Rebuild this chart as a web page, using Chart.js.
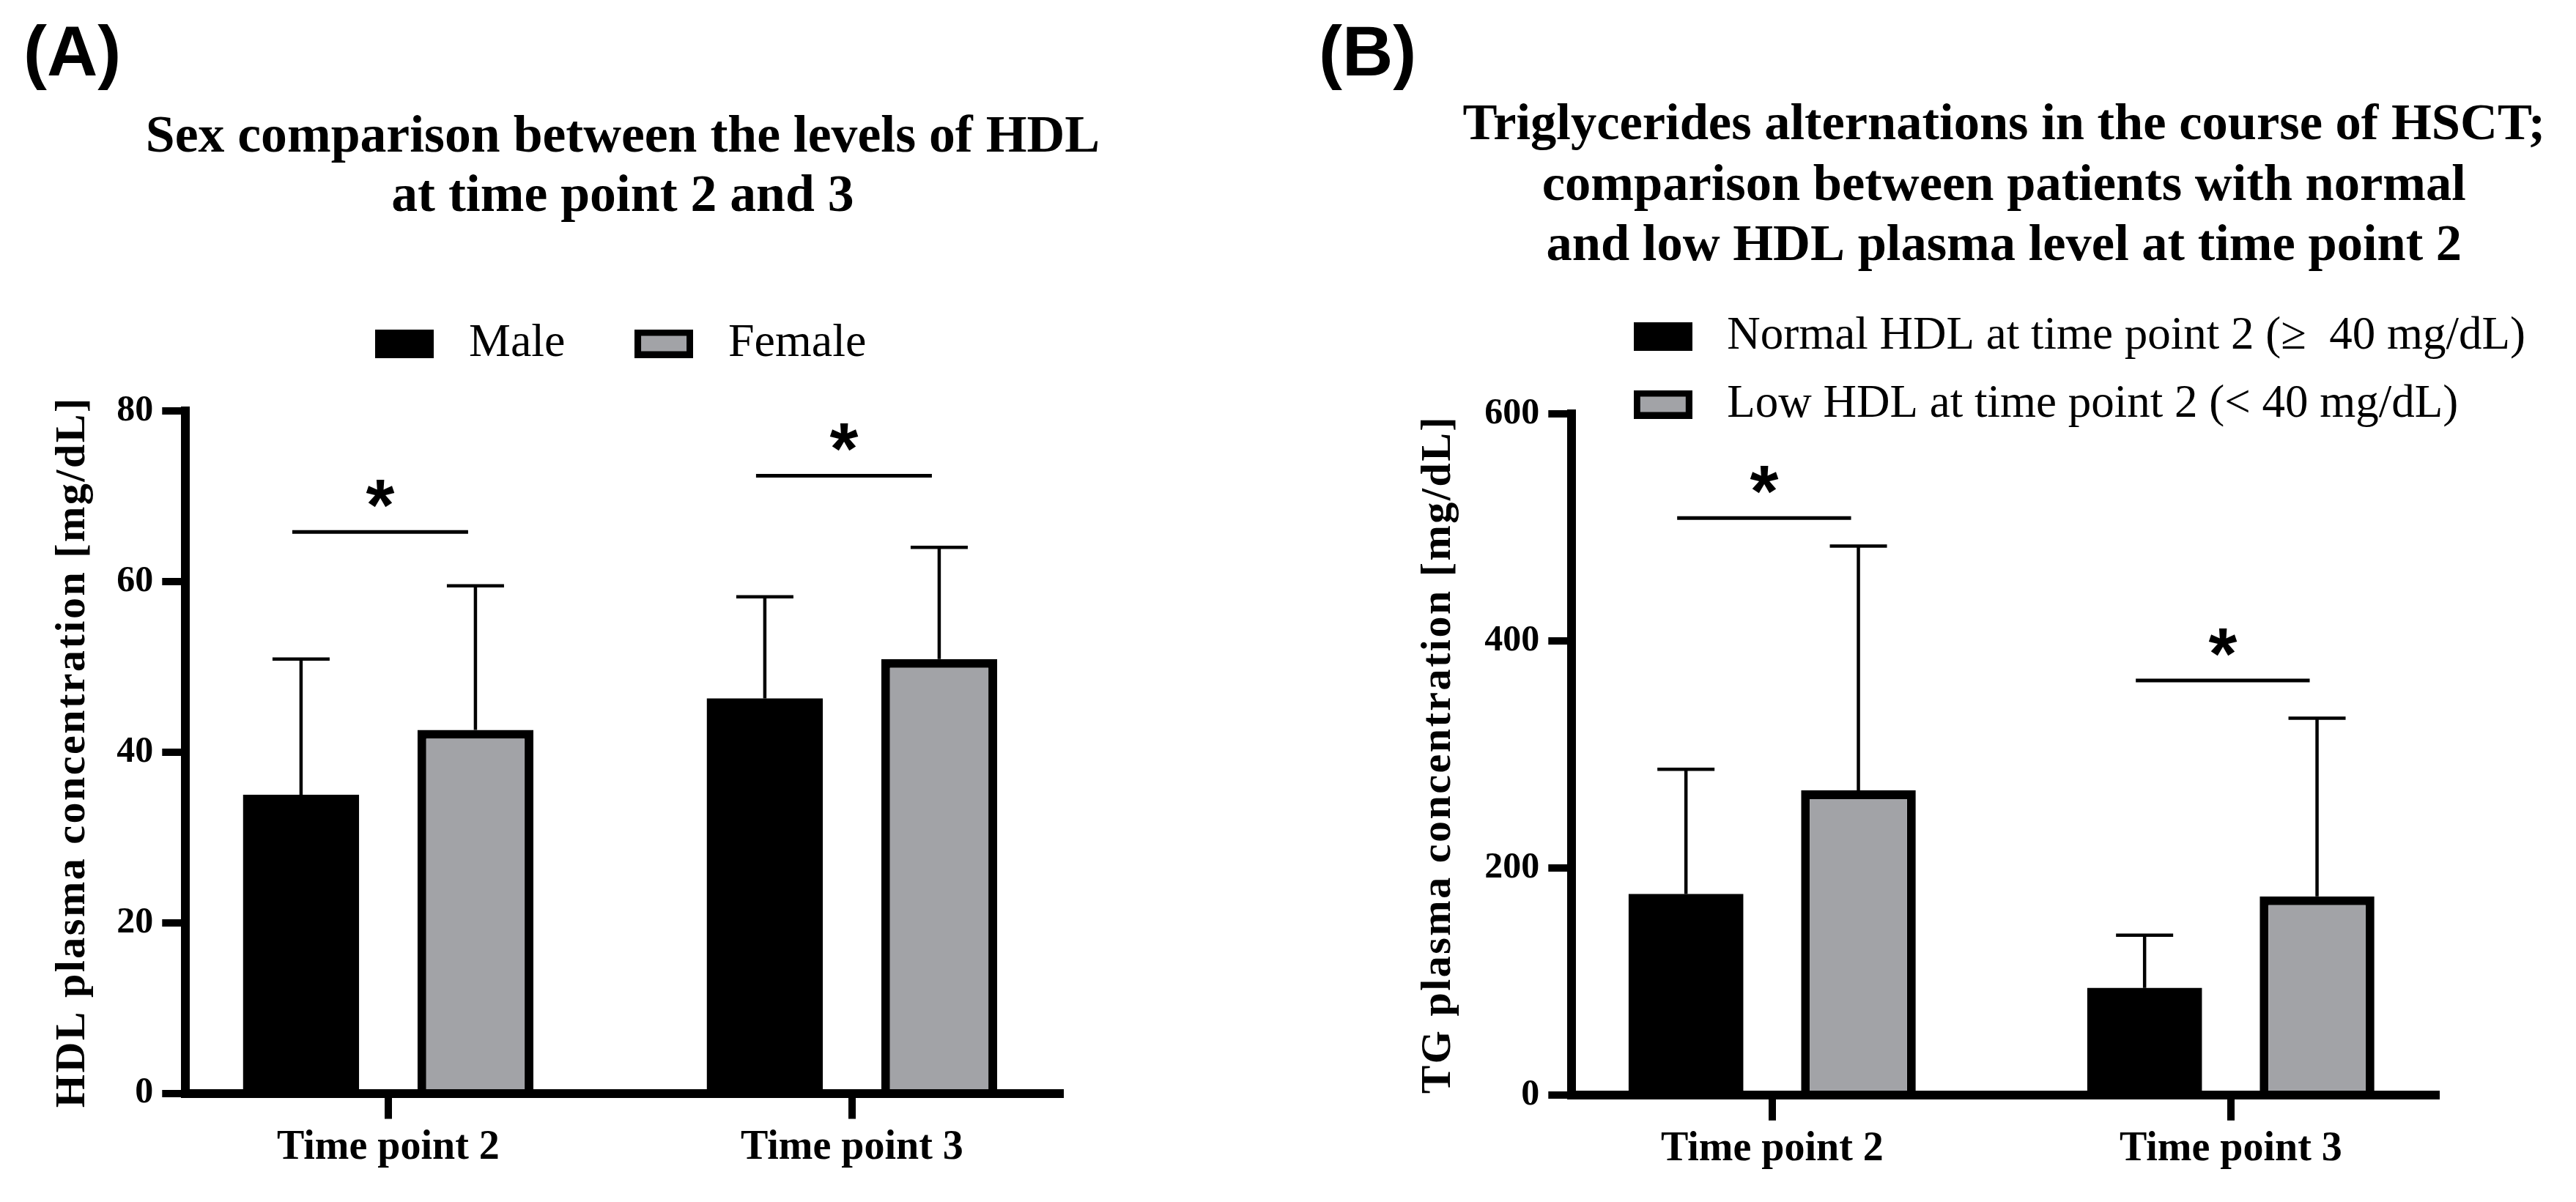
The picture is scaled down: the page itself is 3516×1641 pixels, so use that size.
<!DOCTYPE html>
<html>
<head>
<meta charset="utf-8">
<title>HDL and TG after HSCT</title>
<script src="https://cdn.jsdelivr.net/npm/chart.js@4.4.1/dist/chart.umd.min.js"></script>
<style>
  html, body { margin: 0; padding: 0; background: #fff; overflow: hidden; }
  body { width: 3516px; height: 1641px; position: relative; }
  canvas { position: absolute; top: 0; }
  .tag { position: absolute; top: 22px; font: bold 96px 'Liberation Sans', Arial, sans-serif; line-height: 1; color: #000; }
</style>
</head>
<body>
<canvas id="chartA" style="left:0" width="1760" height="1641"></canvas>
<canvas id="chartB" style="left:1760px" width="1756" height="1641"></canvas>
<div class="tag" style="left:32px">(A)</div>
<div class="tag" style="left:1800px">(B)</div>
<script>
/* ---- data ---- */
const timePoints = ['Time point 2', 'Time point 3'];

// (A) HDL by sex, mg/dL (mean, SD)
const hdlMale = [35.0, 46.3];
const hdlMaleSD = [15.9, 11.9];
const hdlFemale = [42.6, 50.9];
const hdlFemaleSD = [16.9, 13.1];
const hdlSig = [65.8, 72.4];
const hdlTicks = [0, 20, 40, 60, 80];

// (B) TG by HDL group at time point 2, mg/dL (mean, SD)
const tgNormal = [177.0, 94.3];
const tgNormalSD = [110.0, 46.5];
const tgLow = [268.5, 175.0];
const tgLowSD = [215.3, 157.0];
const tgSig = [508.5, 365.3];
const tgTicks = [0, 200, 400, 600];

const SERIF = "'Liberation Serif', 'Times New Roman', serif";
const GRAY = '#a2a3a7';

/* error bars, significance bars and asterisks */
const marks = {
  id: 'marks',
  afterDatasetsDraw(chart, args, opts) {
    const ctx = chart.ctx;
    const y = chart.scales.y;
    ctx.save();
    ctx.strokeStyle = '#000';
    ctx.fillStyle = '#000';
    ctx.lineCap = 'butt';
    opts.sd.forEach((sd, di) => {
      const ds = chart.data.datasets[di];
      chart.getDatasetMeta(di).data.forEach((bar, i) => {
        const yEnd = y.getPixelForValue(ds.data[i].y + sd[i]);
        ctx.lineWidth = 4.5;
        ctx.beginPath();
        ctx.moveTo(bar.x, bar.y);
        ctx.lineTo(bar.x, yEnd);
        ctx.moveTo(bar.x - 39, yEnd);
        ctx.lineTo(bar.x + 39, yEnd);
        ctx.stroke();
      });
    });
    const left = chart.getDatasetMeta(0).data;
    const right = chart.getDatasetMeta(1).data;
    opts.sig.forEach((v, i) => {
      const yy = y.getPixelForValue(v);
      const x0 = left[i].x - 12, x1 = right[i].x - 10;
      ctx.lineWidth = 5;
      ctx.beginPath();
      ctx.moveTo(x0, yy);
      ctx.lineTo(x1, yy);
      ctx.stroke();
      ctx.font = "bold 100px 'Liberation Sans', Arial, sans-serif";
      ctx.textAlign = 'center';
      ctx.textBaseline = 'alphabetic';
      ctx.fillText('*', (x0 + x1) / 2, yy - 2);
    });
    ctx.restore();
  }
};

/* place legend and title where the figure has them:
   the legend overlaps the plot top in B, the titles run wider than the plot */
const placeBoxes = {
  id: 'placeBoxes',
  afterLayout(chart, args, opts) {
    const lg = chart.legend;
    if (lg) {
      const lab = lg.options.labels;
      const h = lg.bottom - lg.top;
      lg.top = opts.legendMiddle - lab.padding - lab.font.size / 2;
      lg.bottom = lg.top + h;
      lg.left += opts.dx;
      lg.right = opts.right != null ? opts.right : lg.right + opts.dx;
    }
    const t = chart.titleBlock;
    if (t) {
      t.left -= 400;
      t.right += 400;
    }
  }
};

/* the y title in the figure is letter-spaced */
const spacedTitle = {
  id: 'spacedTitle',
  beforeDraw(chart, args, opts) {
    const s = chart.scales.y;
    if (s._spaced) return;
    const draw = s.drawTitle;
    s.drawTitle = function () {
      chart.ctx.save();
      chart.ctx.letterSpacing = opts.spacing + 'px';
      draw.call(s);
      chart.ctx.restore();
    };
    s._spaced = true;
  }
};

/* legend swatch: 80x39 box with a black frame */
function swatch(fill) {
  const c = document.createElement('canvas');
  c.width = 80;
  c.height = 39;
  const g = c.getContext('2d');
  g.fillStyle = '#000';
  g.fillRect(0, 0, 80, 39);
  g.fillStyle = fill;
  g.fillRect(9, 9, 62, 21);
  return c;
}

const legendLabels = chart => Chart.defaults.plugins.legend.labels.generateLabels(chart)
  .map((item, i) => ({ ...item, pointStyle: swatch(chart.data.datasets[i].backgroundColor) }));

function makeChart(id, cfg) {
  return new Chart(document.getElementById(id), {
    type: 'bar',
    data: {
      datasets: [
        { label: cfg.names[0], data: cfg.a.map((v, i) => ({ x: i, y: v })), backgroundColor: '#000', borderColor: '#000', borderWidth: 0, categoryPercentage: 0.752, barPercentage: 0.665 },
        { label: cfg.names[1], data: cfg.b.map((v, i) => ({ x: i, y: v })), backgroundColor: GRAY, borderColor: '#000', borderWidth: 12, categoryPercentage: 0.752, barPercentage: 0.665 }
      ]
    },
    options: {
      responsive: false,
      animation: false,
      devicePixelRatio: 1,
      layout: { padding: { left: 0, top: 0, bottom: 0, right: cfg.padRight } },
      plugins: {
        tooltip: { enabled: false },
        title: {
          display: true, fullSize: false, text: cfg.title, color: '#000',
          font: { family: SERIF, size: cfg.titleSize, weight: 'bold', lineHeight: cfg.titleLH },
          padding: { top: cfg.titleTop, bottom: cfg.titleBottom }
        },
        legend: {
          display: true, position: 'top', align: cfg.legendAlign, fullSize: false,
          labels: {
            usePointStyle: true, pointStyleWidth: 112, padding: cfg.legendPad, color: '#000',
            font: { family: SERIF, size: cfg.legendSize }, generateLabels: legendLabels
          }
        },
        placeBoxes: cfg.place,
        marks: { sd: [cfg.aSD, cfg.bSD], sig: cfg.sig },
        spacedTitle: { spacing: 2.5 }
      },
      scales: {
        x: {
          type: 'linear', min: -0.437, max: 1.448, offset: false,
          afterBuildTicks: s => { s.ticks = timePoints.map((t, i) => ({ value: i })); },
          afterFit: s => { s.height = cfg.xHeight; },
          grid: { drawOnChartArea: false, offset: false, color: '#000', lineWidth: 10, tickLength: 35 },
          border: { color: '#000', width: 12, z: 1 },
          ticks: { callback: v => timePoints[v], color: '#000', padding: 6, maxRotation: 0, font: { family: SERIF, size: 56, weight: 'bold' } }
        },
        y: {
          min: cfg.ticks[0], max: cfg.ticks[cfg.ticks.length - 1],
          afterBuildTicks: s => { s.ticks = cfg.ticks.map(v => ({ value: v })); },
          afterFit: s => { s.width = cfg.yWidth; },
          grid: { drawOnChartArea: false, color: '#000', lineWidth: 10, tickLength: 32 },
          border: { color: '#000', width: 12, z: 1 },
          ticks: { color: '#000', padding: 12, font: { family: SERIF, size: 50, weight: 'bold' } },
          title: {
            display: true, text: cfg.yTitle, color: '#000',
            font: { family: SERIF, size: 58, weight: 'bold', lineHeight: 1.2 },
            padding: { top: cfg.yTitlePad, bottom: 0 }
          }
        }
      }
    },
    plugins: [marks, placeBoxes, spacedTitle]
  });
}

makeChart('chartA', {
  names: ['Male', 'Female'],
  a: hdlMale, aSD: hdlMaleSD, b: hdlFemale, bSD: hdlFemaleSD, sig: hdlSig, ticks: hdlTicks,
  title: ['Sex comparison between the levels of HDL', 'at time point 2 and 3'],
  titleSize: 71.7, titleLH: 1.1367, titleTop: 147.5, titleBottom: 98,
  legendAlign: 'center', legendPad: 78.5, legendSize: 64,
  place: { legendMiddle: 469, dx: -10.7 },
  yTitle: 'HDL plasma concentration [mg/dL]', yTitlePad: 65.7,
  yWidth: 253.3, xHeight: 148.5, padRight: 313.5
});

makeChart('chartB', {
  names: ['Normal HDL at time point 2 (\u2265  40 mg/dL)', 'Low HDL at time point 2 (< 40 mg/dL)'],
  a: tgNormal, aSD: tgNormalSD, b: tgLow, bSD: tgLowSD, sig: tgSig, ticks: tgTicks,
  title: ['Triglycerides alternations in the course of HSCT;', 'comparison between patients with normal', 'and low HDL plasma level at time point 2'],
  titleSize: 70.5, titleLH: 1.1702, titleTop: 130.75, titleBottom: -8.75,
  legendAlign: 'start', legendPad: 30, legendSize: 63,
  place: { legendMiddle: 459, dx: 38.5, right: 1756 },
  yTitle: 'TG plasma concentration [mg/dL]', yTitlePad: 169.2,
  yWidth: 385.3, xHeight: 146.3, padRight: 190.7
});
</script>
</body>
</html>
